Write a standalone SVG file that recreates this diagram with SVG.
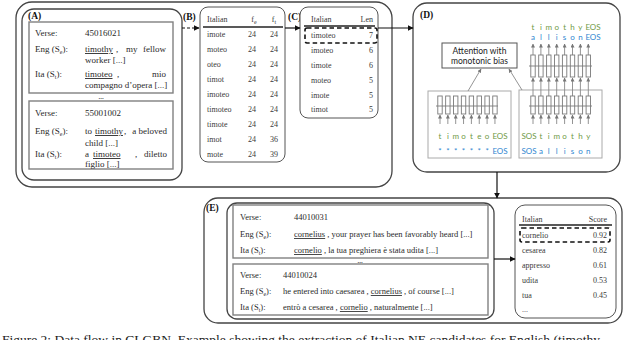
<svg xmlns="http://www.w3.org/2000/svg" width="640" height="340" viewBox="0 0 640 340">
<style>
.frame{fill:none;stroke:#444;stroke-width:1.3}
.vbox{fill:#fff;stroke:#808080;stroke-width:1.4}
.tbl{fill:#fff;stroke:#555;stroke-width:1}
.hl{stroke:#222;stroke-width:1.4}
.dash{fill:none;stroke:#111;stroke-width:1.6;stroke-dasharray:4.5 3}
.t{font-family:"Liberation Serif","Times New Roman",serif;font-size:9px;fill:#2a2a2a}
.te{font-family:"Liberation Serif","Times New Roman",serif;font-size:8.5px;fill:#2a2a2a}
.tt{font-family:"Liberation Serif","Times New Roman",serif;font-size:8px;fill:#3a3a3a}
.dots{font-family:"Liberation Serif","Times New Roman",serif;font-size:7px;font-weight:bold;fill:#2a2a2a;text-anchor:middle}
.lab{font-family:"Liberation Serif","Times New Roman",serif;font-size:9.5px;font-weight:bold;fill:#111}
.u{text-decoration:underline}
.sub{font-size:6px}
.sans{font-family:Lato,"Liberation Sans",sans-serif;font-size:8.5px;fill:#222}
.g{font-family:Lato,"Liberation Sans",sans-serif;font-size:8px;fill:#6f9a45;text-anchor:middle}
.b{font-family:Lato,"Liberation Sans",sans-serif;font-size:8px;fill:#2f86d0;text-anchor:middle}
.cell{fill:#fff;stroke:#7a7a7a;stroke-width:0.9}
.enc{fill:none;stroke:#aaa;stroke-width:1}
.ga{stroke:#888;stroke-width:0.9;marker-end:url(#garrow)}
.conn{stroke:#111;stroke-width:1.2;fill:none;marker-end:url(#arrow)}
.cap{font-family:"Liberation Serif","Times New Roman",serif;font-size:13.5px;fill:#222}
</style>
<defs>
<marker id="arrow" viewBox="0 0 10 10" refX="9" refY="5" markerWidth="6" markerHeight="6" orient="auto" markerUnits="userSpaceOnUse"><path d="M0,0 L10,5 L0,10 z" fill="#111"/></marker>
<marker id="garrow" viewBox="0 0 10 10" refX="9" refY="5" markerWidth="4" markerHeight="4" orient="auto" markerUnits="userSpaceOnUse"><path d="M0,0 L10,5 L0,10 z" fill="#777"/></marker>
</defs>

<!-- outer frame for A-C -->
<rect id="frameTop" x="16" y="2" width="376" height="185" rx="16" class="frame"/>

<g id="nodeA">
<rect x="22" y="9" width="160" height="171" rx="12" class="frame"/>
<text x="28" y="19" class="lab">(A)</text>
<rect x="29" y="22" width="144" height="71" class="vbox"/>
<text x="35" y="36" class="t">Verse:</text>
<text x="85" y="36" class="t">45016021</text>
<text x="35" y="52" class="t">Eng (S<tspan class="sub" dy="2">e</tspan><tspan dy="-2">):</tspan></text>
<text x="85" y="52" class="t u">timothy</text>
<text x="116" y="52" class="t">,</text>
<text x="126" y="52" class="t">my</text>
<text x="166" y="52" class="t" text-anchor="end">fellow</text>
<text x="85" y="63" class="t">worker [...]</text>
<text x="35" y="77" class="t">Ita (S<tspan class="sub" dy="2">t</tspan><tspan dy="-2">):</tspan></text>
<text x="85" y="77" class="t u">timoteo</text>
<text x="117" y="77" class="t">,</text>
<text x="166" y="77" class="t" text-anchor="end">mio</text>
<text x="85" y="88" class="t">compagno d’opera [...]</text>
<text x="101" y="99" class="dots">...</text>
<rect x="29" y="101" width="144" height="68" class="vbox"/>
<text x="35" y="116" class="t">Verse:</text>
<text x="85" y="116" class="t">55001002</text>
<text x="35" y="134" class="t">Eng (S<tspan class="sub" dy="2">e</tspan><tspan dy="-2">):</tspan></text>
<text x="85" y="134" class="t">to</text>
<text x="95" y="134" class="t u">timothy</text>
<text x="124" y="134" class="t">,</text>
<text x="167" y="134" class="t" text-anchor="end">a beloved</text>
<text x="85" y="146" class="t">child [...]</text>
<text x="35" y="157" class="t">Ita (S<tspan class="sub" dy="2">t</tspan><tspan dy="-2">):</tspan></text>
<text x="85" y="157" class="t">a</text>
<text x="93" y="157" class="t u">timoteo</text>
<text x="135" y="157" class="t">,</text>
<text x="167" y="157" class="t" text-anchor="end">diletto</text>
<text x="85" y="167" class="t">figlio [...]</text>
</g>

<g id="nodeB">
<text x="183" y="20" class="lab">(B)</text>
<rect x="200" y="7" width="85" height="155" rx="8" class="tbl"/>
<text x="207" y="22" class="tt">Italian</text>
<text x="254" y="22" class="tt" text-anchor="middle">f<tspan class="sub" dy="1.5">e</tspan></text>
<text x="274" y="22" class="tt" text-anchor="middle">f<tspan class="sub" dy="1.5">t</tspan></text>
<line x1="203" y1="27" x2="283" y2="27" class="hl"/>
<g class="tt">
<text x="207" y="37">imote</text><text x="252" y="37" text-anchor="middle">24</text><text x="274" y="37" text-anchor="middle">24</text>
<text x="207" y="52">moteo</text><text x="252" y="52" text-anchor="middle">24</text><text x="274" y="52" text-anchor="middle">24</text>
<text x="207" y="67">oteo</text><text x="252" y="67" text-anchor="middle">24</text><text x="274" y="67" text-anchor="middle">24</text>
<text x="207" y="82">timot</text><text x="252" y="82" text-anchor="middle">24</text><text x="274" y="82" text-anchor="middle">24</text>
<text x="207" y="97">imoteo</text><text x="252" y="97" text-anchor="middle">24</text><text x="274" y="97" text-anchor="middle">24</text>
<text x="207" y="112">timoteo</text><text x="252" y="112" text-anchor="middle">24</text><text x="274" y="112" text-anchor="middle">24</text>
<text x="207" y="127">timote</text><text x="252" y="127" text-anchor="middle">24</text><text x="274" y="127" text-anchor="middle">24</text>
<text x="207" y="142">imot</text><text x="252" y="142" text-anchor="middle">24</text><text x="274" y="142" text-anchor="middle">36</text>
<text x="207" y="157">mote</text><text x="252" y="157" text-anchor="middle">24</text><text x="274" y="157" text-anchor="middle">39</text>
</g>
</g>

<g id="nodeC">
<text x="288" y="20" class="lab">(C)</text>
<rect x="300" y="7" width="78" height="111" rx="8" class="tbl"/>
<text x="311" y="22" class="tt">Italian</text>
<text x="373" y="22" class="tt" text-anchor="end">Len</text>
<line x1="304" y1="26" x2="375" y2="26" class="hl"/>
<rect x="305" y="28" width="72" height="15" rx="2" class="dash"/>
<g class="tt">
<text x="311" y="38">timoteo</text><text x="373" y="38" text-anchor="end">7</text>
<text x="311" y="53">imoteo</text><text x="373" y="53" text-anchor="end">6</text>
<text x="311" y="68">timote</text><text x="373" y="68" text-anchor="end">6</text>
<text x="311" y="83">moteo</text><text x="373" y="83" text-anchor="end">5</text>
<text x="311" y="98">imote</text><text x="373" y="98" text-anchor="end">5</text>
<text x="311" y="112">timot</text><text x="373" y="112" text-anchor="end">5</text>
</g>
</g>

<g id="nodeD">
<rect x="413" y="3" width="207" height="169" rx="14" class="frame"/>
<text x="420" y="18" class="lab">(D)</text>
<rect x="442" y="43" width="75" height="25" fill="#fff" stroke="#555" stroke-width="1"/>
<text x="479.5" y="54" class="sans" text-anchor="middle">Attention with</text>
<text x="479.5" y="64" class="sans" text-anchor="middle">monotonic bias</text>
<rect x="428" y="91" width="83" height="67" class="enc"/>
<rect x="519" y="90" width="83" height="68" class="enc"/>
<line x1="468" y1="91" x2="481" y2="69" class="ga"/>
<line x1="522" y1="90" x2="509" y2="69" class="ga"/>
<g id="encLeft">
<g class="ga">
<line x1="440" y1="124" x2="440" y2="115"/><line x1="447.85" y1="124" x2="447.85" y2="115"/><line x1="455.7" y1="124" x2="455.7" y2="115"/><line x1="463.55" y1="124" x2="463.55" y2="115"/><line x1="471.4" y1="124" x2="471.4" y2="115"/><line x1="479.25" y1="124" x2="479.25" y2="115"/><line x1="487.1" y1="124" x2="487.1" y2="115"/><line x1="494.95" y1="124" x2="494.95" y2="115"/>
</g>
<g class="cell">
<rect x="437.8" y="96" width="4.4" height="18"/><rect x="445.65" y="96" width="4.4" height="18"/><rect x="453.5" y="96" width="4.4" height="18"/><rect x="461.35" y="96" width="4.4" height="18"/><rect x="469.2" y="96" width="4.4" height="18"/><rect x="477.05" y="96" width="4.4" height="18"/><rect x="484.9" y="96" width="4.4" height="18"/><rect x="492.75" y="96" width="4.4" height="18"/>
</g>
<line x1="436" y1="106" x2="498" y2="106" stroke="#7a7a7a" stroke-width="0.9"/>
<text y="139" class="g"><tspan x="440">t</tspan><tspan x="447.85">i</tspan><tspan x="455.7">m</tspan><tspan x="463.55">o</tspan><tspan x="471.4">t</tspan><tspan x="479.25">e</tspan><tspan x="487.1">o</tspan><tspan x="500">EOS</tspan></text>
<text y="154" class="b"><tspan x="440">*</tspan><tspan x="447.85">*</tspan><tspan x="455.7">*</tspan><tspan x="463.55">*</tspan><tspan x="471.4">*</tspan><tspan x="479.25">*</tspan><tspan x="487.1">*</tspan><tspan x="500">EOS</tspan></text>
</g>
<g id="encRight">
<g class="ga">
<line x1="533" y1="124" x2="533" y2="115"/><line x1="540.9" y1="124" x2="540.9" y2="115"/><line x1="548.8" y1="124" x2="548.8" y2="115"/><line x1="556.7" y1="124" x2="556.7" y2="115"/><line x1="564.6" y1="124" x2="564.6" y2="115"/><line x1="572.5" y1="124" x2="572.5" y2="115"/><line x1="580.4" y1="124" x2="580.4" y2="115"/><line x1="588.3" y1="124" x2="588.3" y2="115"/>
<line x1="533" y1="96" x2="533" y2="78"/><line x1="540.9" y1="96" x2="540.9" y2="78"/><line x1="548.8" y1="96" x2="548.8" y2="78"/><line x1="556.7" y1="96" x2="556.7" y2="78"/><line x1="564.6" y1="96" x2="564.6" y2="78"/><line x1="572.5" y1="96" x2="572.5" y2="78"/><line x1="580.4" y1="96" x2="580.4" y2="78"/><line x1="588.3" y1="96" x2="588.3" y2="78"/>
<line x1="533" y1="55" x2="533" y2="44"/><line x1="540.9" y1="55" x2="540.9" y2="44"/><line x1="548.8" y1="55" x2="548.8" y2="44"/><line x1="556.7" y1="55" x2="556.7" y2="44"/><line x1="564.6" y1="55" x2="564.6" y2="44"/><line x1="572.5" y1="55" x2="572.5" y2="44"/><line x1="580.4" y1="55" x2="580.4" y2="44"/><line x1="588.3" y1="55" x2="588.3" y2="44"/>
</g>
<g class="cell">
<rect x="530.8" y="96" width="4.4" height="18"/><rect x="538.7" y="96" width="4.4" height="18"/><rect x="546.6" y="96" width="4.4" height="18"/><rect x="554.5" y="96" width="4.4" height="18"/><rect x="562.4" y="96" width="4.4" height="18"/><rect x="570.3" y="96" width="4.4" height="18"/><rect x="578.2" y="96" width="4.4" height="18"/><rect x="586.1" y="96" width="4.4" height="18"/>
<rect x="530.8" y="55" width="4.4" height="22"/><rect x="538.7" y="55" width="4.4" height="22"/><rect x="546.6" y="55" width="4.4" height="22"/><rect x="554.5" y="55" width="4.4" height="22"/><rect x="562.4" y="55" width="4.4" height="22"/><rect x="570.3" y="55" width="4.4" height="22"/><rect x="578.2" y="55" width="4.4" height="22"/><rect x="586.1" y="55" width="4.4" height="22"/>
</g>
<line x1="529" y1="106" x2="592" y2="106" stroke="#7a7a7a" stroke-width="0.9"/>
<line x1="529" y1="66" x2="592" y2="66" stroke="#7a7a7a" stroke-width="0.9"/>
<text y="30" class="g"><tspan x="533">t</tspan><tspan x="540.9">i</tspan><tspan x="548.8">m</tspan><tspan x="556.7">o</tspan><tspan x="564.6">t</tspan><tspan x="572.5">h</tspan><tspan x="580.4">y</tspan><tspan x="593">EOS</tspan></text>
<text y="40" class="b"><tspan x="533">a</tspan><tspan x="540.9">l</tspan><tspan x="548.8">l</tspan><tspan x="556.7">i</tspan><tspan x="564.6">s</tspan><tspan x="572.5">o</tspan><tspan x="580.4">n</tspan><tspan x="593">EOS</tspan></text>
<text y="139" class="g"><tspan x="529">SOS</tspan><tspan x="540.9">t</tspan><tspan x="548.8">i</tspan><tspan x="556.7">m</tspan><tspan x="564.6">o</tspan><tspan x="572.5">t</tspan><tspan x="580.4">h</tspan><tspan x="588.3">y</tspan></text>
<text y="154" class="b"><tspan x="529">SOS</tspan><tspan x="540.9">a</tspan><tspan x="548.8">l</tspan><tspan x="556.7">l</tspan><tspan x="564.6">i</tspan><tspan x="572.5">s</tspan><tspan x="580.4">o</tspan><tspan x="588.3">n</tspan></text>
</g>
</g>

<g id="nodeE">
<rect x="204" y="198" width="418" height="125" rx="14" class="frame"/>
<text x="206" y="211" class="lab">(E)</text>
<rect x="227" y="203" width="267" height="116" rx="10" class="frame"/>
<rect x="233" y="205" width="255" height="53" class="vbox"/>
<text x="240" y="220" class="te">Verse:</text>
<text x="294" y="220" class="te">44010031</text>
<text x="240" y="237" class="te">Eng (S<tspan class="sub" dy="2">e</tspan><tspan dy="-2">):</tspan></text>
<text x="294" y="237" class="te"><tspan class="u">cornelius</tspan> , your prayer has been favorably heard [...]</text>
<text x="240" y="253" class="te">Ita (S<tspan class="sub" dy="2">t</tspan><tspan dy="-2">):</tspan></text>
<text x="294" y="253" class="te"><tspan class="u">cornelio</tspan> , la tua preghiera è stata udita [...]</text>
<text x="360" y="263" class="dots">...</text>
<rect x="233" y="264" width="255" height="51" class="vbox"/>
<text x="240" y="278" class="te">Verse:</text>
<text x="283" y="278" class="te">44010024</text>
<text x="240" y="294" class="te">Eng (S<tspan class="sub" dy="2">e</tspan><tspan dy="-2">):</tspan></text>
<text x="283" y="294" class="te">he entered into caesarea , <tspan class="u">cornelius</tspan> , of course [...]</text>
<text x="240" y="310" class="te">Ita (S<tspan class="sub" dy="2">t</tspan><tspan dy="-2">):</tspan></text>
<text x="283" y="310" class="te">entrò a cesarea , <tspan class="u">cornelio</tspan> , naturalmente [...]</text>
</g>

<g id="nodeScore">
<rect x="515" y="205" width="101" height="113" rx="10" class="tbl"/>
<text x="522" y="222" class="tt">Italian</text>
<text x="607" y="222" class="tt" text-anchor="end">Score</text>
<line x1="519" y1="225" x2="612" y2="225" class="hl"/>
<rect x="520" y="228" width="90" height="14" rx="2" class="dash"/>
<g class="tt">
<text x="522" y="238">cornelio</text><text x="607" y="238" text-anchor="end">0.92</text>
<text x="522" y="253">cesarea</text><text x="607" y="253" text-anchor="end">0.82</text>
<text x="522" y="268">appresso</text><text x="607" y="268" text-anchor="end">0.61</text>
<text x="522" y="283">udita</text><text x="607" y="283" text-anchor="end">0.53</text>
<text x="522" y="298">tua</text><text x="607" y="298" text-anchor="end">0.45</text>
<text x="522" y="312">...</text>
</g>
</g>

<g id="connectors">
<line x1="182" y1="28" x2="199" y2="28" class="conn" stroke-dasharray="3 2"/>
<line x1="285" y1="28" x2="300" y2="28" class="conn"/>
<line x1="378" y1="28" x2="413" y2="28" class="conn"/>
<line x1="497" y1="172" x2="497" y2="198" class="conn"/>
<line x1="494" y1="259" x2="515" y2="259" class="conn"/>
</g>

<text x="2" y="344" class="cap">Figure 2: Data flow in CLGBN. Example showing the extraction of Italian NE candidates for English (timothy</text>
</svg>
